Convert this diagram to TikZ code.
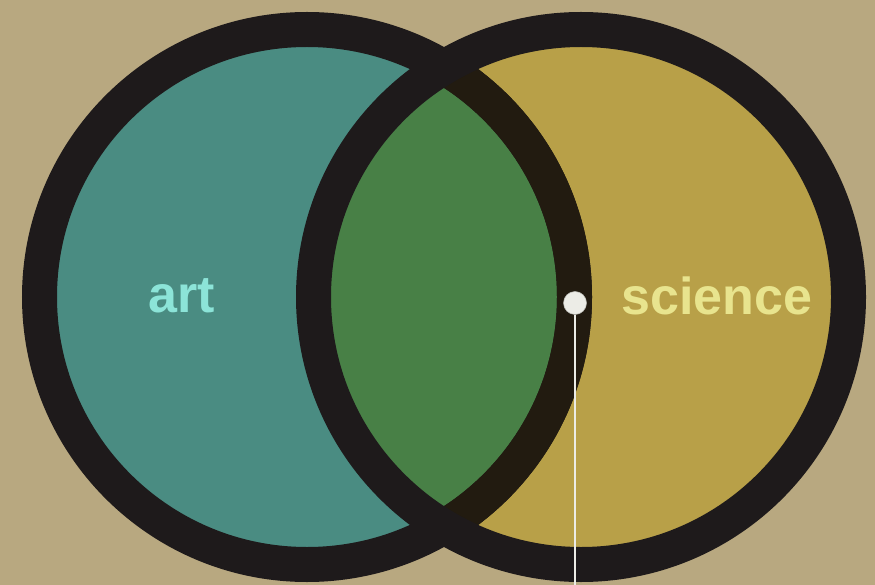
\documentclass[tikz,border=0pt]{standalone}
\usepackage{fontspec}
\setmainfont{Liberation Sans}
\definecolor{bg}{RGB}{184,168,128}
\definecolor{teal}{RGB}{74,140,130}
\definecolor{sci}{RGB}{184,160,72}
\definecolor{mix}{RGB}{72,128,70}
\definecolor{ring}{RGB}{30,26,27}
\definecolor{ringb}{RGB}{34,27,16}
\definecolor{arttxt}{RGB}{140,228,216}
\definecolor{scitxt}{RGB}{232,228,142}
\definecolor{dotc}{RGB}{236,236,230}
\tikzset{
  lbl/.style={font=\fontsize{52}{52}\selectfont\bfseries, inner sep=0pt, anchor=center},
  ringline/.style={line width=35pt, draw=ring},
}
\begin{document}
\begin{tikzpicture}[x=1pt,y=-1pt]
\fill[bg] (0,0) rectangle (875,585);
\useasboundingbox (0,0) rectangle (875,585);
\coordinate (L) at (307,297);
\coordinate (R) at (581,297);
% fills
\fill[teal] (L) circle[radius=260];
\fill[sci] (R) circle[radius=260];
\begin{scope}
  \clip (L) circle[radius=260];
  \fill[mix] (R) circle[radius=260];
\end{scope}
% left ring
\draw[ringline] (L) circle[radius=267.5];
\begin{scope}
  \clip (R) circle[radius=250];
  \draw[ringline, draw=ringb] (L) circle[radius=267.5];
\end{scope}
% right ring
\draw[ringline] (R) circle[radius=267.5];
% labels
\node[lbl, text=arttxt] (art) at (182,296) {art};
\node[lbl, text=scitxt] (science) at (717,296) {science};
% pointer
\coordinate (bottom) at (575,585);
\node[circle, fill=dotc, draw=dotc!80!black, line width=0.5pt, minimum size=23pt, inner sep=0pt] (dot) at (575,303) {};
\draw[dotc, line width=2.5pt] (dot.south) -- (bottom);
\end{tikzpicture}
\end{document}
